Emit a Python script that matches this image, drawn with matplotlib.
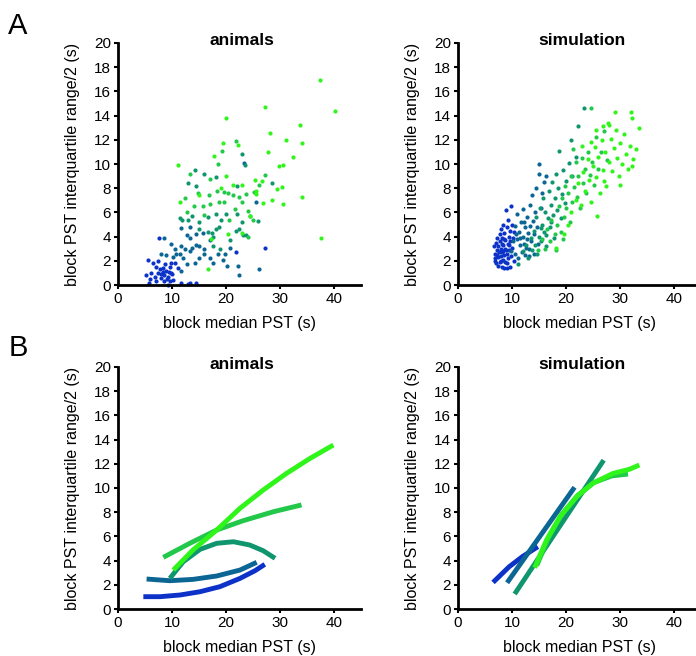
import matplotlib
matplotlib.use("Agg")
import matplotlib.pyplot as plt

plt.rcParams['font.family'] = ['Liberation Sans', 'DejaVu Sans']

group_colors = ['#0c32c8', '#0b6694', '#10966f', '#22c84a', '#30f51a']

# ---- A / animals: scatter points per group (x = median PST, y = IQR/2) ----
anim_x0 = [5.2, 6.2, 6.8, 7.4, 8.0, 8.6, 9.3, 9.8, 10.2, 7.1, 8.6, 9.6, 5.7, 9.3, 8.3, 9.9, 9.6, 8.9, 8.3, 7.1,
           5.6, 6.5, 7.5, 7.6, 10.5, 11.1, 11.7, 13.0, 13.4, 14.5, 21.8, 27.3, 9.0, 8.0, 9.5, 7.8, 8.8, 10.0, 6.0]
anim_y0 = [0.8, 1.0, 0.7, 1.0, 0.6, 0.8, 0.7, 1.0, 0.4, 0.3, 0.3, 0.3, 0.2, 0.0, 1.4, 1.8, 1.5, 1.2, 1.1, 1.5,
           2.1, 1.8, 2.0, 3.9, 1.8, 1.4, 0.2, 0.1, 0.2, 0.2, 2.7, 3.1, 0.5, 0.9, 1.1, 1.3, 1.7, 0.9, 0.5]
anim_x1 = [7.9, 8.9, 10.2, 10.5, 9.9, 8.6, 10.8, 11.4, 11.7, 12.0, 12.8, 14.2, 15.1, 15.9, 13.3, 12.5, 11.7, 13.8,
           14.4, 12.7, 13.4, 11.7, 13.4, 16.0, 17.1, 17.6, 20.2, 22.3, 22.5, 26.1, 19.4, 15.1, 14.4, 17.0,
           18.5, 19.8, 20.7, 25.6, 23.3, 15.7]
anim_y1 = [2.6, 2.5, 2.3, 3.0, 3.4, 3.9, 2.6, 2.6, 1.2, 2.2, 1.7, 1.8, 2.2, 2.6, 2.8, 3.0, 3.2, 3.1,
           3.3, 4.1, 3.9, 4.7, 4.8, 3.0, 2.2, 1.8, 1.6, 1.6, 0.8, 1.3, 2.1, 3.2, 4.2, 3.7,
           2.6, 2.6, 3.1, 6.9, 10.1, 4.3]
anim_x2 = [11.4, 13.0, 13.7, 15.0, 15.0, 16.7, 17.5, 17.6, 18.9, 20.7, 21.8, 22.5, 23.1, 23.8, 23.0, 24.5, 25.9,
           17.6, 18.2, 18.7, 16.7, 19.1, 18.2, 22.0, 23.0, 23.5, 18.1, 14.5, 16.0, 14.3, 22.0, 28.5, 12.9,
           11.9, 20.1]
anim_y2 = [5.5, 5.4, 5.7, 5.2, 4.6, 4.4, 4.3, 3.2, 3.0, 3.7, 4.5, 4.6, 4.1, 4.1, 5.2, 5.7, 5.3,
           4.0, 4.6, 4.8, 5.6, 5.4, 5.9, 5.9, 10.8, 9.9, 8.9, 8.2, 9.2, 9.5, 8.2, 8.4, 8.4,
           5.4, 5.9]
anim_x3 = [12.5, 13.4, 14.1, 15.7, 14.8, 17.0, 16.8, 17.1, 18.3, 18.8, 19.6, 19.6, 20.3, 21.6, 22.9, 24.1, 25.0,
           20.6, 21.3, 22.5, 23.8, 25.2, 26.2, 27.2, 21.8, 19.3, 18.5, 16.0, 12.8, 24.0]
anim_y3 = [7.2, 9.2, 6.5, 6.5, 7.6, 8.8, 7.4, 6.7, 7.8, 6.9, 7.7, 6.9, 7.6, 6.3, 6.9, 6.1, 5.4,
           5.4, 7.4, 7.3, 7.5, 7.7, 8.3, 9.1, 11.9, 11.1, 10.0, 5.8, 6.0, 4.0]
anim_x4 = [37.4, 40.2, 27.3, 20.1, 33.7, 28.1, 34.1, 31.2, 19.5, 17.7, 22.2, 27.8, 32.5, 30.6, 29.9, 11.2, 20.0,
           21.3, 23.0, 25.4, 26.6, 29.5, 30.4, 34.1, 37.7, 25.5, 25.6, 26.9, 28.5, 30.6, 15.1, 11.5, 19.0,
           24.5, 16.7, 17.3, 20.3, 22.9]
anim_y4 = [16.9, 14.4, 14.7, 13.8, 13.2, 12.6, 11.7, 12.0, 11.7, 10.7, 11.6, 11.0, 10.6, 9.9, 9.8, 9.9, 9.0,
           8.3, 8.3, 8.7, 8.6, 7.9, 8.1, 7.3, 3.9, 7.8, 7.5, 6.8, 7.0, 6.7, 7.4, 6.9, 8.0,
           5.7, 1.3, 3.8, 4.2, 4.3]

# ---- A / simulation ----
sim_x0 = [6.6, 6.8, 6.9, 7.0, 7.1, 7.2, 7.3, 7.4, 7.5, 7.5, 7.6, 7.7, 7.8, 7.8, 7.9, 8.0, 8.0, 8.1, 8.2, 8.2,
          8.3, 8.4, 8.4, 8.5, 8.6, 8.6, 8.7, 8.8, 8.8, 8.9, 9.0, 9.0, 9.1, 9.2, 9.2, 9.3, 9.4, 9.5, 9.6, 9.6,
          9.7, 9.8, 9.9, 10.0, 10.1, 10.2, 10.3, 10.4, 7.3, 8.1, 8.9, 7.9, 8.5, 9.4, 6.9, 8.3, 9.0]
sim_y0 = [3.2, 2.0, 2.6, 3.5, 1.8, 2.9, 3.9, 2.3, 1.6, 3.2, 2.7, 4.2, 1.9, 3.6, 2.4, 3.0, 4.6, 1.5, 2.7, 3.9,
          2.1, 3.3, 5.0, 1.4, 2.5, 4.3, 3.0, 1.9, 3.7, 6.2, 2.6, 4.8, 1.4, 3.4, 5.4, 2.2, 4.0, 2.9, 1.5, 4.5,
          3.6, 6.5, 2.4, 3.1, 5.0, 3.9, 2.0, 4.4, 2.5, 3.4, 2.9, 2.0, 3.8, 3.3, 2.2, 2.8, 1.8]
sim_x1 = [9.8, 10.2, 10.5, 10.6, 10.9, 11.0, 11.1, 11.3, 11.5, 11.6, 11.8, 12.0, 12.1, 12.2, 12.4, 12.5, 12.7,
          12.8, 13.0, 13.1, 13.3, 13.4, 13.6, 13.8, 13.9, 14.1, 14.3, 14.5, 14.6, 14.8, 15.0, 15.1, 15.3, 15.5,
          16.0, 16.4, 11.4, 12.6, 13.2, 14.0, 12.3, 10.8]
sim_y1 = [2.8, 3.6, 4.9, 2.6, 3.8, 5.9, 2.2, 4.4, 3.3, 5.2, 2.7, 4.0, 6.3, 3.4, 4.8, 2.5, 3.8,
          5.6, 4.3, 3.0, 6.6, 4.9, 3.6, 7.4, 5.3, 4.2, 6.0, 8.0, 4.8, 3.4, 9.2, 10.0, 6.4, 7.6,
          8.5, 9.0, 3.9, 3.1, 2.4, 2.6, 5.2, 4.2]
sim_x2 = [11.2, 12.0, 12.6, 13.0, 13.5, 13.8, 14.0, 14.2, 14.5, 14.7, 15.0, 15.2, 15.4, 15.6, 15.8, 16.0, 16.2,
          16.4, 16.6, 16.8, 17.0, 17.2, 17.4, 17.6, 17.8, 18.0, 18.2, 18.4, 18.6, 18.8, 19.0, 19.2, 19.5, 19.8,
          20.0, 20.5, 20.9, 21.2, 21.8, 22.2, 23.4, 16.3, 15.3, 17.3]
sim_y2 = [1.7, 2.8, 3.3, 2.2, 3.9, 2.9, 4.5, 3.3, 5.6, 2.6, 4.0, 6.4, 3.6, 5.0, 7.2, 4.4, 6.0,
          3.2, 5.5, 7.8, 4.8, 6.6, 8.5, 5.8, 3.9, 7.2, 9.2, 6.2, 8.0, 11.1, 5.5, 7.5, 9.5, 6.8,
          8.6, 10.1, 12.0, 9.0, 10.6, 13.1, 14.6, 4.1, 4.7, 5.2]
sim_x3 = [14.8, 15.5, 16.1, 16.5, 17.0, 17.3, 17.9, 18.1, 18.4, 18.7, 19.0, 19.3, 19.6, 19.9, 20.1, 20.4, 20.7,
          21.0, 21.2, 21.5, 21.8, 22.0, 22.3, 22.6, 22.9, 23.2, 23.5, 23.8, 24.1, 24.4, 24.8, 25.2, 25.6, 26.0,
          26.5, 27.0, 27.6, 24.6, 21.4, 19.5]
sim_y3 = [2.9, 3.8, 3.0, 4.6, 3.6, 5.4, 4.2, 2.9, 5.0, 6.5, 4.4, 7.2, 5.6, 8.2, 6.4, 7.6, 5.2,
          9.0, 6.9, 8.1, 10.2, 7.3, 9.0, 6.4, 10.5, 8.4, 9.6, 7.6, 11.0, 9.1, 10.2, 8.3, 12.2, 9.6,
          11.0, 12.7, 10.3, 14.6, 11.2, 3.8]
sim_x4 = [18.2, 19.6, 20.3, 21.0, 21.9, 22.3, 22.8, 23.2, 23.6, 24.0, 24.3, 24.7, 25.0, 25.3, 25.6, 25.8, 26.0,
          26.3, 26.6, 26.9, 27.2, 27.5, 27.8, 28.0, 28.3, 28.6, 28.9, 29.2, 29.5, 29.8, 30.1, 30.4, 30.8, 31.1,
          31.5, 31.8, 32.0, 32.3, 32.5, 33.0, 33.5, 29.0, 28.0, 30.0, 26.8, 32.3, 27.0, 24.6, 23.0, 25.5]
sim_y4 = [3.1, 4.2, 5.0, 6.0, 7.0, 8.4, 6.6, 9.3, 7.8, 10.4, 8.7, 6.9, 9.8, 11.4, 8.9, 5.7, 10.6,
          7.6, 12.0, 9.5, 11.0, 8.2, 13.4, 10.2, 12.1, 9.4, 11.3, 12.8, 10.5, 9.0, 11.7, 10.0, 12.5, 10.8,
          9.6, 11.5, 14.3, 13.8, 10.4, 11.2, 13.0, 14.3, 13.2, 8.3, 13.1, 9.8, 8.6, 11.8, 11.5, 12.8]

# ---- B: fitted curves per group ----
fit_anim_x = [[4.7, 7.8, 11.5, 15.2, 18.9, 22.6, 25.4, 27.2],
              [5.3, 9.6, 13.9, 18.3, 22.6, 25.7],
              [9.6, 12.1, 15.2, 18.3, 21.4, 24.4, 26.9, 29.1],
              [8.4, 13.3, 18.3, 23.2, 28.8, 34.0],
              [10.25, 13.9, 18.3, 22.6, 26.9, 31.2, 35.6, 39.9]]
fit_anim_y = [[1.02, 1.02, 1.16, 1.43, 1.85, 2.53, 3.17, 3.69],
              [2.48, 2.34, 2.45, 2.73, 3.22, 3.86],
              [2.53, 3.91, 4.93, 5.43, 5.56, 5.29, 4.82, 4.19],
              [4.27, 5.43, 6.53, 7.3, 8.04, 8.6],
              [3.22, 4.88, 6.53, 8.32, 9.83, 11.2, 12.45, 13.55]]
fit_sim_x = [[6.5, 9.5, 12.0, 14.8],
             [9.1, 21.6],
             [10.5, 27.0],
             [14.6, 16.8, 19.2, 22.2, 25.2, 28.5, 31.5],
             [14.2, 16.4, 18.9, 22.0, 25.0, 28.7, 31.8, 33.6]]
fit_sim_y = [[2.2, 3.5, 4.35, 5.15],
             [2.17, 10.06],
             [1.24, 12.3],
             [3.6, 5.9, 7.8, 9.4, 10.45, 11.0, 11.15],
             [3.41, 5.7, 7.63, 9.28, 10.4, 11.2, 11.55, 11.9]]

anim_xs = [anim_x0, anim_x1, anim_x2, anim_x3, anim_x4]
anim_ys = [anim_y0, anim_y1, anim_y2, anim_y3, anim_y4]
sim_xs = [sim_x0, sim_x1, sim_x2, sim_x3, sim_x4]
sim_ys = [sim_y0, sim_y1, sim_y2, sim_y3, sim_y4]


def style_axes(ax, title):
    ax.set_xlim(0, 45)
    ax.set_ylim(0, 20)
    ax.set_xticks([0, 10, 20, 30, 40])
    ax.set_yticks(range(0, 21, 2))
    for s in ['top', 'right']:
        ax.spines[s].set_visible(False)
    for s in ['left', 'bottom']:
        ax.spines[s].set_linewidth(2.0)
    ax.tick_params(direction='out', length=3, width=1.5, labelsize=11, pad=2)
    ax.set_xlabel('block median PST (s)', fontsize=11.5, labelpad=7)
    ax.set_ylabel('block PST interquartile range/2 (s)', fontsize=11.5, labelpad=10)
    ax.text(23, 19.85, title, ha='center', va='baseline', fontsize=12.5, fontweight='bold')


fig = plt.figure(figsize=(6.96, 6.56), dpi=100)
ax1 = fig.add_axes([0.1695, 0.5655, 0.349, 0.369])
ax2 = fig.add_axes([0.658, 0.5655, 0.349, 0.369])
ax3 = fig.add_axes([0.1695, 0.0716, 0.349, 0.369])
ax4 = fig.add_axes([0.658, 0.0716, 0.349, 0.369])

for g in range(5):
    ax1.scatter(anim_xs[g], anim_ys[g], s=9, color=group_colors[g], linewidths=0, clip_on=False)
    ax2.scatter(sim_xs[g], sim_ys[g], s=9, color=group_colors[g], linewidths=0, clip_on=False)
    ax3.plot(fit_anim_x[g], fit_anim_y[g], color=group_colors[g], lw=3.5, solid_capstyle='butt')
    ax4.plot(fit_sim_x[g], fit_sim_y[g], color=group_colors[g], lw=3.5, solid_capstyle='butt')

style_axes(ax1, 'animals')
style_axes(ax2, 'simulation')
style_axes(ax3, 'animals')
style_axes(ax4, 'simulation')

fig.text(0.012, 0.948, 'A', fontsize=21)
fig.text(0.012, 0.457, 'B', fontsize=21)

fig.savefig('out.png', dpi=100)
